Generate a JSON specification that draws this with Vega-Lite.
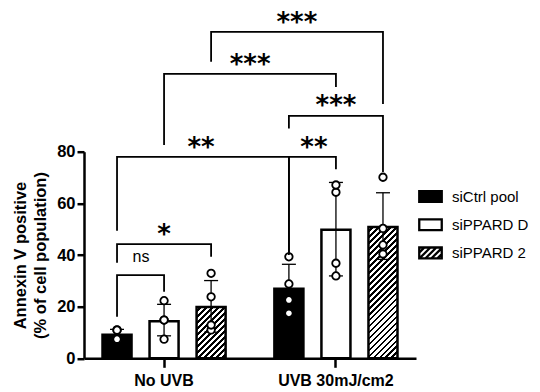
{
  "$schema": "https://vega.github.io/schema/vega-lite/v6.json",
  "width": 332,
  "height": 206.6,
  "autosize": "none",
  "padding": {"left": 84, "top": 151.7, "right": 124, "bottom": 33.7},
  "config": {"view": {"stroke": null}, "font": "Liberation Sans"},
  "datasets": {
    "bars": [
      {"group": "No UVB", "series": "siCtrl pool", "mean": 9.1, "lo": 7.2, "hi": 11.2},
      {"group": "No UVB", "series": "siPPARD D", "mean": 14.3, "lo": 8.7, "hi": 20.9},
      {"group": "No UVB", "series": "siPPARD 2", "mean": 19.9, "lo": 10.1, "hi": 30.1},
      {"group": "UVB 30mJ/cm2", "series": "siCtrl pool", "mean": 26.9, "lo": 17.6, "hi": 36.4},
      {"group": "UVB 30mJ/cm2", "series": "siPPARD D", "mean": 49.8, "lo": 31.9, "hi": 68.1},
      {"group": "UVB 30mJ/cm2", "series": "siPPARD 2", "mean": 50.8, "lo": 38.3, "hi": 64.1}
    ],
    "pts": [
      {"group": "No UVB", "series": "siCtrl pool", "value": 11.0},
      {"group": "No UVB", "series": "siCtrl pool", "value": 10.9},
      {"group": "No UVB", "series": "siCtrl pool", "value": 7.5},
      {"group": "No UVB", "series": "siCtrl pool", "value": 7.4},
      {"group": "No UVB", "series": "siPPARD D", "value": 22.3},
      {"group": "No UVB", "series": "siPPARD D", "value": 14.8},
      {"group": "No UVB", "series": "siPPARD D", "value": 14.8},
      {"group": "No UVB", "series": "siPPARD D", "value": 7.4},
      {"group": "No UVB", "series": "siPPARD 2", "value": 32.9},
      {"group": "No UVB", "series": "siPPARD 2", "value": 23.8},
      {"group": "No UVB", "series": "siPPARD 2", "value": 11.0},
      {"group": "No UVB", "series": "siPPARD 2", "value": 12.9},
      {"group": "UVB 30mJ/cm2", "series": "siCtrl pool", "value": 39.3},
      {"group": "UVB 30mJ/cm2", "series": "siCtrl pool", "value": 28.8},
      {"group": "UVB 30mJ/cm2", "series": "siCtrl pool", "value": 22.6},
      {"group": "UVB 30mJ/cm2", "series": "siCtrl pool", "value": 17.4},
      {"group": "UVB 30mJ/cm2", "series": "siPPARD D", "value": 64.3},
      {"group": "UVB 30mJ/cm2", "series": "siPPARD D", "value": 67.1},
      {"group": "UVB 30mJ/cm2", "series": "siPPARD D", "value": 36.8},
      {"group": "UVB 30mJ/cm2", "series": "siPPARD D", "value": 31.9},
      {"group": "UVB 30mJ/cm2", "series": "siPPARD 2", "value": 70.1},
      {"group": "UVB 30mJ/cm2", "series": "siPPARD 2", "value": 50.3},
      {"group": "UVB 30mJ/cm2", "series": "siPPARD 2", "value": 43.9},
      {"group": "UVB 30mJ/cm2", "series": "siPPARD 2", "value": 40.4}
    ],
    "brk": [
      {"id": "ns", "ord": 1, "group": "No UVB", "series": "siCtrl pool", "v": 16.1},
      {"id": "ns", "ord": 2, "group": "No UVB", "series": "siCtrl pool", "v": 32.2},
      {"id": "ns", "ord": 3, "group": "No UVB", "series": "siPPARD D", "v": 32.2},
      {"id": "ns", "ord": 4, "group": "No UVB", "series": "siPPARD D", "v": 25.8},
      {"id": "S", "ord": 1, "group": "No UVB", "series": "siCtrl pool", "v": 37.0},
      {"id": "S", "ord": 2, "group": "No UVB", "series": "siCtrl pool", "v": 44.2},
      {"id": "S", "ord": 3, "group": "No UVB", "series": "siPPARD 2", "v": 44.2},
      {"id": "S", "ord": 4, "group": "No UVB", "series": "siPPARD 2", "v": 39.3},
      {"id": "A", "ord": 1, "group": "No UVB", "series": "siCtrl pool", "v": 49.4},
      {"id": "A", "ord": 2, "group": "No UVB", "series": "siCtrl pool", "v": 78.0},
      {"id": "A", "ord": 3, "group": "UVB 30mJ/cm2", "series": "siCtrl pool", "v": 78.0},
      {"id": "A", "ord": 4, "group": "UVB 30mJ/cm2", "series": "siCtrl pool", "v": 40.6},
      {"id": "C", "ord": 1, "group": "UVB 30mJ/cm2", "series": "siCtrl pool", "v": 40.0},
      {"id": "C", "ord": 2, "group": "UVB 30mJ/cm2", "series": "siCtrl pool", "v": 78.0},
      {"id": "C", "ord": 3, "group": "UVB 30mJ/cm2", "series": "siPPARD D", "v": 78.0},
      {"id": "C", "ord": 4, "group": "UVB 30mJ/cm2", "series": "siPPARD D", "v": 73.2},
      {"id": "E", "ord": 1, "group": "UVB 30mJ/cm2", "series": "siCtrl pool", "v": 89.0},
      {"id": "E", "ord": 2, "group": "UVB 30mJ/cm2", "series": "siCtrl pool", "v": 93.9},
      {"id": "E", "ord": 3, "group": "UVB 30mJ/cm2", "series": "siPPARD 2", "v": 93.9},
      {"id": "E", "ord": 4, "group": "UVB 30mJ/cm2", "series": "siPPARD 2", "v": 72.1},
      {"id": "B", "ord": 1, "group": "No UVB", "series": "siPPARD D", "v": 82.6},
      {"id": "B", "ord": 2, "group": "No UVB", "series": "siPPARD D", "v": 110.1},
      {"id": "B", "ord": 3, "group": "UVB 30mJ/cm2", "series": "siPPARD D", "v": 110.1},
      {"id": "B", "ord": 4, "group": "UVB 30mJ/cm2", "series": "siPPARD D", "v": 105.1},
      {"id": "T", "ord": 1, "group": "No UVB", "series": "siPPARD 2", "v": 114.8},
      {"id": "T", "ord": 2, "group": "No UVB", "series": "siPPARD 2", "v": 126.4},
      {"id": "T", "ord": 3, "group": "UVB 30mJ/cm2", "series": "siPPARD 2", "v": 126.4},
      {"id": "T", "ord": 4, "group": "UVB 30mJ/cm2", "series": "siPPARD 2", "v": 98.5}
    ],
    "lbl": [
      {"id": "ns", "label": "ns", "group": "No UVB", "series": "siCtrl pool", "ly": 37.1},
      {"id": "S", "label": "*", "group": "No UVB", "series": "siPPARD D", "ly": 44.6},
      {"id": "A", "label": "**", "group": "No UVB", "series": "siPPARD 2", "ly": 78.2},
      {"id": "C", "label": "**", "group": "UVB 30mJ/cm2", "series": "siCtrl pool", "ly": 78.2},
      {"id": "E", "label": "***", "group": "UVB 30mJ/cm2", "series": "siPPARD D", "ly": 94.7},
      {"id": "B", "label": "***", "group": "No UVB", "series": "siPPARD 2", "ly": 110.5},
      {"id": "T", "label": "***", "group": "UVB 30mJ/cm2", "series": "siCtrl pool", "ly": 126.9}
    ]
  },
  "encoding": {
    "x": {
      "field": "group", "type": "nominal", "sort": null,
      "scale": {"domain": ["No UVB", "UVB 30mJ/cm2"], "paddingInner": 0.179, "paddingOuter": 0.0553},
      "axis": {
        "title": null, "labelAngle": 0, "domainWidth": 2.5, "domainColor": "black",
        "tickColor": "black", "tickWidth": 2.5, "tickSize": 9,
        "labelFont": "Liberation Sans", "labelFontWeight": "bold", "labelFontSize": 16,
        "labelColor": "black", "labelPadding": 5
      }
    },
    "xOffset": {
      "field": "series", "type": "nominal", "sort": null,
      "scale": {"domain": ["siCtrl pool", "siPPARD D", "siPPARD 2"], "paddingInner": 0.383, "paddingOuter": 0.1915}
    }
  },
  "layer": [
    {
      "data": {"name": "bars"},
      "mark": {"type": "bar", "stroke": "black", "strokeWidth": 2.5, "strokeJoin": "miter"},
      "encoding": {
        "y": {
          "field": "mean", "type": "quantitative",
          "scale": {"domain": [0, 80], "nice": false},
          "axis": {
            "values": [0, 20, 40, 60, 80], "grid": false,
            "domainWidth": 2.5, "domainColor": "black",
            "tickColor": "black", "tickWidth": 2.5, "tickSize": 7,
            "labelFont": "Liberation Sans", "labelFontWeight": "bold", "labelFontSize": 16.5,
            "labelColor": "black", "labelPadding": 2,
            "title": ["Annexin V positive", "(% of cell population)"],
            "titleFont": "Liberation Sans", "titleFontSize": 16.5, "titleFontWeight": "bold",
            "titleColor": "black", "titlePadding": 8, "titleLineHeight": 20
          }
        },
        "fill": {
          "field": "series", "type": "nominal",
          "scale": {"domain": ["siCtrl pool", "siPPARD D", "siPPARD 2"], "range": ["black", "white", "white"]},
          "condition": [
            {
              "test": "datum.group === 'No UVB' && datum.series === 'siPPARD 2'",
              "value": {
                "gradient": "linear", "x1": 0, "y1": 0, "x2": 0.6694, "y2": 1.1865,
                "stops": [
                  {"offset": 0, "color": "#fff"}, {"offset": 0.0408, "color": "#fff"}, {"offset": 0.0408, "color": "#000"}, {"offset": 0.0742, "color": "#000"},
                  {"offset": 0.0742, "color": "#fff"}, {"offset": 0.115, "color": "#fff"}, {"offset": 0.115, "color": "#000"}, {"offset": 0.1483, "color": "#000"},
                  {"offset": 0.1483, "color": "#fff"}, {"offset": 0.1891, "color": "#fff"}, {"offset": 0.1891, "color": "#000"}, {"offset": 0.2225, "color": "#000"},
                  {"offset": 0.2225, "color": "#fff"}, {"offset": 0.2633, "color": "#fff"}, {"offset": 0.2633, "color": "#000"}, {"offset": 0.2967, "color": "#000"},
                  {"offset": 0.2967, "color": "#fff"}, {"offset": 0.3375, "color": "#fff"}, {"offset": 0.3375, "color": "#000"}, {"offset": 0.3709, "color": "#000"},
                  {"offset": 0.3709, "color": "#fff"}, {"offset": 0.4116, "color": "#fff"}, {"offset": 0.4116, "color": "#000"}, {"offset": 0.445, "color": "#000"},
                  {"offset": 0.445, "color": "#fff"}, {"offset": 0.4858, "color": "#fff"}, {"offset": 0.4858, "color": "#000"}, {"offset": 0.5192, "color": "#000"},
                  {"offset": 0.5192, "color": "#fff"}, {"offset": 0.56, "color": "#fff"}, {"offset": 0.56, "color": "#000"}, {"offset": 0.5934, "color": "#000"},
                  {"offset": 0.5934, "color": "#fff"}, {"offset": 0.6341, "color": "#fff"}, {"offset": 0.6341, "color": "#000"}, {"offset": 0.6675, "color": "#000"},
                  {"offset": 0.6675, "color": "#fff"}, {"offset": 0.7083, "color": "#fff"}, {"offset": 0.7083, "color": "#000"}, {"offset": 0.7417, "color": "#000"},
                  {"offset": 0.7417, "color": "#fff"}, {"offset": 0.7825, "color": "#fff"}, {"offset": 0.7825, "color": "#000"}, {"offset": 0.8159, "color": "#000"},
                  {"offset": 0.8159, "color": "#fff"}, {"offset": 0.8567, "color": "#fff"}, {"offset": 0.8567, "color": "#000"}, {"offset": 0.89, "color": "#000"},
                  {"offset": 0.89, "color": "#fff"}, {"offset": 0.9308, "color": "#fff"}, {"offset": 0.9308, "color": "#000"}, {"offset": 0.9642, "color": "#000"},
                  {"offset": 0.9642, "color": "#fff"}, {"offset": 1, "color": "#fff"}
                ]
              }
            },
            {
              "test": "datum.group === 'UVB 30mJ/cm2' && datum.series === 'siPPARD 2'",
              "value": {
                "gradient": "linear", "x1": 0, "y1": 0, "x2": 0.2573, "y2": 1.1642,
                "stops": [
                  {"offset": 0, "color": "#fff"}, {"offset": 0.0205, "color": "#fff"}, {"offset": 0.0205, "color": "#000"}, {"offset": 0.0372, "color": "#000"},
                  {"offset": 0.0372, "color": "#fff"}, {"offset": 0.0577, "color": "#fff"}, {"offset": 0.0577, "color": "#000"}, {"offset": 0.0744, "color": "#000"},
                  {"offset": 0.0744, "color": "#fff"}, {"offset": 0.0949, "color": "#fff"}, {"offset": 0.0949, "color": "#000"}, {"offset": 0.1117, "color": "#000"},
                  {"offset": 0.1117, "color": "#fff"}, {"offset": 0.1322, "color": "#fff"}, {"offset": 0.1322, "color": "#000"}, {"offset": 0.1489, "color": "#000"},
                  {"offset": 0.1489, "color": "#fff"}, {"offset": 0.1694, "color": "#fff"}, {"offset": 0.1694, "color": "#000"}, {"offset": 0.1861, "color": "#000"},
                  {"offset": 0.1861, "color": "#fff"}, {"offset": 0.2066, "color": "#fff"}, {"offset": 0.2066, "color": "#000"}, {"offset": 0.2233, "color": "#000"},
                  {"offset": 0.2233, "color": "#fff"}, {"offset": 0.2438, "color": "#fff"}, {"offset": 0.2438, "color": "#000"}, {"offset": 0.2605, "color": "#000"},
                  {"offset": 0.2605, "color": "#fff"}, {"offset": 0.281, "color": "#fff"}, {"offset": 0.281, "color": "#000"}, {"offset": 0.2978, "color": "#000"},
                  {"offset": 0.2978, "color": "#fff"}, {"offset": 0.3183, "color": "#fff"}, {"offset": 0.3183, "color": "#000"}, {"offset": 0.335, "color": "#000"},
                  {"offset": 0.335, "color": "#fff"}, {"offset": 0.3555, "color": "#fff"}, {"offset": 0.3555, "color": "#000"}, {"offset": 0.3722, "color": "#000"},
                  {"offset": 0.3722, "color": "#fff"}, {"offset": 0.3927, "color": "#fff"}, {"offset": 0.3927, "color": "#000"}, {"offset": 0.4094, "color": "#000"},
                  {"offset": 0.4094, "color": "#fff"}, {"offset": 0.4299, "color": "#fff"}, {"offset": 0.4299, "color": "#000"}, {"offset": 0.4466, "color": "#000"},
                  {"offset": 0.4466, "color": "#fff"}, {"offset": 0.4671, "color": "#fff"}, {"offset": 0.4671, "color": "#000"}, {"offset": 0.4839, "color": "#000"},
                  {"offset": 0.4839, "color": "#fff"}, {"offset": 0.5044, "color": "#fff"}, {"offset": 0.5044, "color": "#000"}, {"offset": 0.5211, "color": "#000"},
                  {"offset": 0.5211, "color": "#fff"}, {"offset": 0.5416, "color": "#fff"}, {"offset": 0.5416, "color": "#000"}, {"offset": 0.5583, "color": "#000"},
                  {"offset": 0.5583, "color": "#fff"}, {"offset": 0.5788, "color": "#fff"}, {"offset": 0.5788, "color": "#000"}, {"offset": 0.5955, "color": "#000"},
                  {"offset": 0.5955, "color": "#fff"}, {"offset": 0.616, "color": "#fff"}, {"offset": 0.616, "color": "#000"}, {"offset": 0.6327, "color": "#000"},
                  {"offset": 0.6327, "color": "#fff"}, {"offset": 0.6532, "color": "#fff"}, {"offset": 0.6532, "color": "#000"}, {"offset": 0.67, "color": "#000"},
                  {"offset": 0.67, "color": "#fff"}, {"offset": 0.6905, "color": "#fff"}, {"offset": 0.6905, "color": "#000"}, {"offset": 0.7072, "color": "#000"},
                  {"offset": 0.7072, "color": "#fff"}, {"offset": 0.7277, "color": "#fff"}, {"offset": 0.7277, "color": "#000"}, {"offset": 0.7444, "color": "#000"},
                  {"offset": 0.7444, "color": "#fff"}, {"offset": 0.7649, "color": "#fff"}, {"offset": 0.7649, "color": "#000"}, {"offset": 0.7816, "color": "#000"},
                  {"offset": 0.7816, "color": "#fff"}, {"offset": 0.8021, "color": "#fff"}, {"offset": 0.8021, "color": "#000"}, {"offset": 0.8188, "color": "#000"},
                  {"offset": 0.8188, "color": "#fff"}, {"offset": 0.8393, "color": "#fff"}, {"offset": 0.8393, "color": "#000"}, {"offset": 0.8561, "color": "#000"},
                  {"offset": 0.8561, "color": "#fff"}, {"offset": 0.8766, "color": "#fff"}, {"offset": 0.8766, "color": "#000"}, {"offset": 0.8933, "color": "#000"},
                  {"offset": 0.8933, "color": "#fff"}, {"offset": 0.9138, "color": "#fff"}, {"offset": 0.9138, "color": "#000"}, {"offset": 0.9305, "color": "#000"},
                  {"offset": 0.9305, "color": "#fff"}, {"offset": 0.951, "color": "#fff"}, {"offset": 0.951, "color": "#000"}, {"offset": 0.9677, "color": "#000"},
                  {"offset": 0.9677, "color": "#fff"}, {"offset": 0.9882, "color": "#fff"}, {"offset": 0.9882, "color": "#000"}, {"offset": 1, "color": "#000"}
                ]
              }
            }
          ],
          "legend": {
            "title": null, "orient": "none", "legendX": 334, "legendY": 32.3, "padding": 0,
            "symbolType": "M-1,-0.48H1V0.48H-1Z", "symbolSize": 506,
            "symbolStrokeColor": "black", "symbolStrokeWidth": 2.5, "symbolOpacity": 1,
            "labelFont": "Liberation Sans", "labelFontSize": 15, "labelColor": "black",
            "labelOffset": 9, "rowPadding": 5.2,
            "encode": {
              "symbols": {
                "update": {
                  "stroke": {"value": "black"},
                  "strokeWidth": {"value": 2.3},
                  "opacity": {"value": 1},
                  "shape": [
                    {"test": "datum.value === 'siPPARD 2'", "value": "M-1,-0.48H1V0.48H-1Z M-1,-0.02L-0.54,-0.48 M-0.97,0.48L-0.01,-0.48 M-0.44,0.48L0.52,-0.48 M0.09,0.48L1,-0.43 M0.62,0.48L1,0.1"},
                    {"value": "M-1,-0.48H1V0.48H-1Z"}
                  ]
                }
              }
            }
          }
        }
      }
    },
    {
      "data": {"name": "bars"},
      "mark": {"type": "rule", "color": "black", "strokeWidth": 1.3},
      "encoding": {"y": {"field": "lo", "type": "quantitative"}, "y2": {"field": "hi"}}
    },
    {
      "data": {"name": "bars"},
      "mark": {"type": "tick", "orient": "horizontal", "color": "black", "size": 14, "thickness": 1.3, "opacity": 1},
      "encoding": {"y": {"field": "hi", "type": "quantitative"}}
    },
    {
      "data": {"name": "bars"},
      "mark": {"type": "tick", "orient": "horizontal", "color": "black", "size": 14, "thickness": 1.3, "opacity": 1},
      "encoding": {"y": {"field": "lo", "type": "quantitative"}}
    },
    {
      "data": {"name": "pts"},
      "mark": {"type": "point", "shape": "circle", "filled": true, "fill": "white", "stroke": "black", "strokeWidth": 1.8, "size": 56, "opacity": 1},
      "encoding": {"y": {"field": "value", "type": "quantitative"}}
    },
    {
      "data": {"name": "brk"},
      "transform": [{"filter": "datum.id !== 'A' && datum.id !== 'C'"}],
      "mark": {"type": "line", "color": "black", "strokeWidth": 1.8, "strokeJoin": "miter", "strokeCap": "butt"},
      "encoding": {"y": {"field": "v", "type": "quantitative"}, "detail": {"field": "id"}, "order": {"field": "ord", "type": "quantitative"}}
    },
    {
      "data": {"name": "brk"},
      "transform": [{"filter": "datum.id === 'A'"}],
      "mark": {"type": "line", "color": "black", "strokeWidth": 1.8, "strokeJoin": "miter", "strokeCap": "butt", "xOffset": -2},
      "encoding": {"y": {"field": "v", "type": "quantitative"}, "detail": {"field": "id"}, "order": {"field": "ord", "type": "quantitative"}}
    },
    {
      "data": {"name": "brk"},
      "transform": [{"filter": "datum.id === 'C'"}],
      "mark": {"type": "line", "color": "black", "strokeWidth": 1.8, "strokeJoin": "miter", "strokeCap": "butt", "xOffset": 2},
      "encoding": {"y": {"field": "v", "type": "quantitative"}, "detail": {"field": "id"}, "order": {"field": "ord", "type": "quantitative"}}
    },
    {
      "data": {"name": "lbl"},
      "transform": [{"filter": "datum.id === 'ns'"}],
      "mark": {"type": "text", "font": "Liberation Sans", "fontSize": 16, "color": "black", "align": "center", "baseline": "alphabetic", "dx": 24},
      "encoding": {"y": {"field": "ly", "type": "quantitative"}, "text": {"field": "label"}}
    },
    {
      "data": {"name": "lbl"},
      "transform": [{"filter": "datum.id === 'S' || datum.id === 'E'"}],
      "mark": {"type": "text", "font": "DejaVu Sans", "fontWeight": "bold", "fontSize": 26, "color": "black", "align": "center", "baseline": "alphabetic"},
      "encoding": {"y": {"field": "ly", "type": "quantitative"}, "text": {"field": "label"}}
    },
    {
      "data": {"name": "lbl"},
      "transform": [{"filter": "datum.id === 'C'"}],
      "mark": {"type": "text", "font": "DejaVu Sans", "fontWeight": "bold", "fontSize": 26, "color": "black", "align": "center", "baseline": "alphabetic", "dx": 25},
      "encoding": {"y": {"field": "ly", "type": "quantitative"}, "text": {"field": "label"}}
    },
    {
      "data": {"name": "lbl"},
      "transform": [{"filter": "datum.id === 'A'"}],
      "mark": {"type": "text", "font": "DejaVu Sans", "fontWeight": "bold", "fontSize": 26, "color": "black", "align": "center", "baseline": "alphabetic", "dx": -10},
      "encoding": {"y": {"field": "ly", "type": "quantitative"}, "text": {"field": "label"}}
    },
    {
      "data": {"name": "lbl"},
      "transform": [{"filter": "datum.id === 'B'"}],
      "mark": {"type": "text", "font": "DejaVu Sans", "fontWeight": "bold", "fontSize": 26, "color": "black", "align": "center", "baseline": "alphabetic", "dx": 39},
      "encoding": {"y": {"field": "ly", "type": "quantitative"}, "text": {"field": "label"}}
    },
    {
      "data": {"name": "lbl"},
      "transform": [{"filter": "datum.id === 'T'"}],
      "mark": {"type": "text", "font": "DejaVu Sans", "fontWeight": "bold", "fontSize": 26, "color": "black", "align": "center", "baseline": "alphabetic", "dx": 8},
      "encoding": {"y": {"field": "ly", "type": "quantitative"}, "text": {"field": "label"}}
    }
  ]
}
